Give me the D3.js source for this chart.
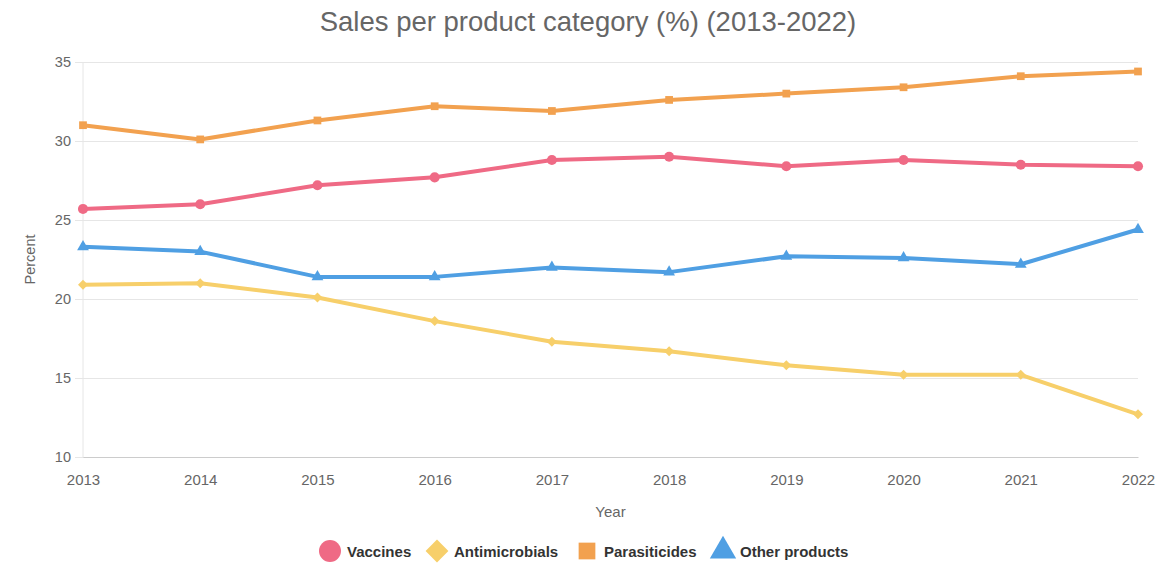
<!DOCTYPE html>
<html>
<head>
<meta charset="utf-8">
<script src="https://cdn.jsdelivr.net/npm/d3@7"></script>
<style>
  body { margin: 0; background: #fff; font-family: "Liberation Sans", Arial, sans-serif; }
  #chart { width: 1173px; height: 564px; }
  .grid line { stroke: #e6e6e6; }
  .grid path { display: none; }
</style>
</head>
<body>
<div id="chart"></div>
<script>
const years = [2013, 2014, 2015, 2016, 2017, 2018, 2019, 2020, 2021, 2022];
const vaccines = [25.7, 26.0, 27.2, 27.7, 28.8, 29.0, 28.4, 28.8, 28.5, 28.4];
const antimicrobials = [20.9, 21.0, 20.1, 18.6, 17.3, 16.7, 15.8, 15.2, 15.2, 12.7];
const parasiticides = [31.0, 30.1, 31.3, 32.2, 31.9, 32.6, 33.0, 33.4, 34.1, 34.4];
const otherProducts = [23.3, 23.0, 21.4, 21.4, 22.0, 21.7, 22.7, 22.6, 22.2, 24.4];
const yTicks = [10, 15, 20, 25, 30, 35];

// diamond = square turned by 45 degrees
const series = [
  { name: 'Vaccines', values: vaccines, color: '#ef6a85', symbol: d3.symbolCircle, rot: 0, size: 80, legendSize: 380 },
  { name: 'Antimicrobials', values: antimicrobials, color: '#f7cf6a', symbol: d3.symbolSquare, rot: 45, size: 50, legendSize: 260 },
  { name: 'Parasiticides', values: parasiticides, color: '#f2a14f', symbol: d3.symbolSquare, rot: 0, size: 60, legendSize: 280 },
  { name: 'Other products', values: otherProducts, color: '#4f9fe3', symbol: d3.symbolTriangle, rot: 0, size: 60, legendSize: 300 },
];

const margin = { top: 62, right: 35, bottom: 107, left: 83 };
const width = 1173 - margin.left - margin.right;
const height = 564 - margin.top - margin.bottom;

const x = d3.scaleLinear().domain([2013, 2022]).range([0, width]);
const y = d3.scaleLinear().domain([10, 35]).range([height, 0]);

const svg = d3.select('#chart').append('svg')
  .attr('width', 1173)
  .attr('height', 564);

svg.append('text')
  .attr('x', 588)
  .attr('y', 31)
  .attr('text-anchor', 'middle')
  .attr('fill', '#666')
  .style('font-size', '27.5px')
  .text('Sales per product category (%) (2013-2022)');

const g = svg.append('g')
  .attr('transform', `translate(${margin.left},${margin.top})`);

// horizontal grid
g.append('g')
  .attr('class', 'grid')
  .call(d3.axisLeft(y).tickValues(yTicks).tickSize(-width).tickFormat(''));

// y axis labels with short ticks
const yAxis = g.append('g')
  .call(d3.axisLeft(y).tickValues(yTicks).tickSize(8).tickPadding(4));
yAxis.select('.domain').remove();
yAxis.selectAll('line').attr('stroke', '#e6e6e6');
yAxis.selectAll('text').attr('fill', '#666').style('font-size', '14.5px');

// left vertical line
g.append('line')
  .attr('x1', 0).attr('x2', 0).attr('y1', 0).attr('y2', height)
  .attr('stroke', '#e6e6e6');

const xAxis = g.append('g')
  .attr('transform', `translate(0,${height})`)
  .call(d3.axisBottom(x).tickValues(years).tickFormat(d3.format('d')).tickSize(0).tickPadding(17));
xAxis.select('.domain').attr('stroke', '#ccc');
xAxis.selectAll('text').attr('fill', '#666').style('font-size', '15px');

g.append('text')
  .attr('transform', `translate(${35 - margin.left},${y(22.5)}) rotate(-90)`)
  .attr('text-anchor', 'middle')
  .attr('fill', '#666')
  .style('font-size', '14.5px')
  .text('Percent');

g.append('text')
  .attr('x', x(2017.5))
  .attr('y', height + 60)
  .attr('text-anchor', 'middle')
  .attr('fill', '#666')
  .style('font-size', '15px')
  .text('Year');

const line = d3.line()
  .x((d, i) => x(years[i]))
  .y(d => y(d));

series.forEach((s) => {
  g.append('path')
    .datum(s.values)
    .attr('fill', 'none')
    .attr('stroke', s.color)
    .attr('stroke-width', 4)
    .attr('stroke-linejoin', 'round')
    .attr('d', line);

  g.selectAll(null)
    .data(s.values)
    .join('path')
    .attr('transform', (d, i) => `translate(${x(years[i])},${y(d)}) rotate(${s.rot})`)
    .attr('d', d3.symbol().type(s.symbol).size(s.size))
    .attr('fill', s.color);
});

// legend
const legendX = [330, 437, 587, 723];
const legend = svg.append('g');
series.forEach((s, i) => {
  const item = legend.append('g')
    .attr('transform', `translate(${legendX[i]},551)`);
  item.append('path')
    .attr('transform', `rotate(${s.rot})`)
    .attr('d', d3.symbol().type(s.symbol).size(s.legendSize))
    .attr('fill', s.color);
  item.append('text')
    .attr('x', 17)
    .attr('y', 5.5)
    .attr('fill', '#333')
    .style('font-size', '15px')
    .style('font-weight', 'bold')
    .text(s.name);
});
</script>
</body>
</html>
